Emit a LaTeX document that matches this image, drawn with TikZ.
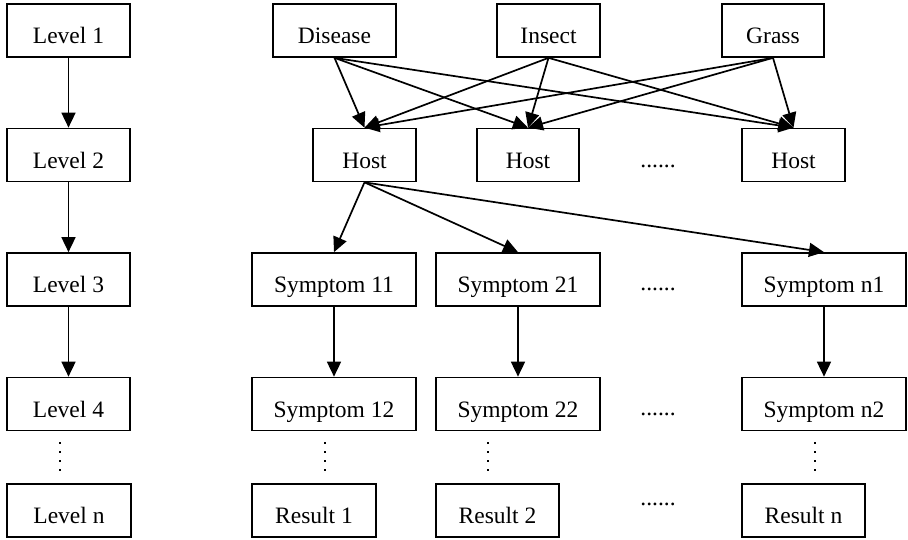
\documentclass[tikz,border=0pt]{standalone}
\usepackage{fontspec}
\setmainfont{Liberation Serif}
\usetikzlibrary{arrows.meta,calc}
\begin{document}
\begin{tikzpicture}[x=1pt,y=-1pt,
  box/.style={draw,line width=1.7pt,minimum height=53pt,inner sep=0pt,
    font=\fontsize{23.5}{27}\selectfont,text height=26pt,text depth=0pt},
  arr/.style={line width=1.7pt,-{Triangle[length=15pt,width=14pt]}},
  dotv/.style={line width=2.4pt,dash pattern=on 2.4pt off 6.6pt},
  ell/.style={font=\fontsize{23.5}{27}\selectfont,anchor=base,inner sep=0pt}]
\useasboundingbox (0,0) rectangle (908,539);
% left column
\node[box,minimum width=123pt] (l1) at (68.5,30.5) {Level 1};
\node[box,minimum width=123pt] (l2) at (68.5,155) {Level 2};
\node[box,minimum width=123pt] (l3) at (68.5,279.5) {Level 3};
\node[box,minimum width=123pt] (l4) at (68.5,404) {Level 4};
\node[box,minimum width=124pt] (ln) at (69,510.5) {Level n};
\draw[arr] (l1) -- (l2);
\draw[arr] (l2) -- (l3);
\draw[arr] (l3) -- (l4);
% top row
\node[box,minimum width=123pt] (dis) at (334.5,30.5) {Disease};
\node[box,minimum width=103pt] (ins) at (548.5,30.5) {Insect};
\node[box,minimum width=102pt] (gra) at (773,30.5) {Grass};
% hosts
\node[box,minimum width=103pt] (h1) at (364.5,155) {Host};
\node[box,minimum width=102pt] (h2) at (528,155) {Host};
\node[box,minimum width=103pt] (h3) at (793.5,155) {Host};
\node[ell] (e1) at (658,167) {......};
% symptoms
\node[box,minimum width=164pt] (s11) at (334,279.5) {Symptom 11};
\node[box,minimum width=164pt] (s21) at (518,279.5) {Symptom 21};
\node[box,minimum width=164pt] (sn1) at (824,279.5) {Symptom n1};
\node[ell] (e2) at (658,290) {......};
\node[box,minimum width=164pt] (s12) at (334,404) {Symptom 12};
\node[box,minimum width=164pt] (s22) at (518,404) {Symptom 22};
\node[box,minimum width=164pt] (sn2) at (824,404) {Symptom n2};
\node[ell] (e3) at (658,415) {......};
% results
\node[box,minimum width=124pt] (r1) at (314,510.5) {Result 1};
\node[box,minimum width=123pt] (r2) at (497.5,510.5) {Result 2};
\node[box,minimum width=123pt] (rn) at (803.5,510.5) {Result n};
\node[ell] (e4) at (658,505) {......};
% top edges
\foreach \s/\t in {dis/h1,dis/h2,dis/h3,ins/h1,ins/h2,ins/h3,gra/h1,gra/h2,gra/h3}
  \draw[arr] (\s.south) -- (\t.north);
% host to symptoms
\foreach \t in {s11,s21,sn1}
  \draw[arr] (h1.south) -- (\t.north);
\draw[arr] (s11) -- (s12);
\draw[arr] (s21) -- (s22);
\draw[arr] (sn1) -- (sn2);
% vertical dotted marks
\draw[dotv] (60,442) -- (60,471);
\draw[dotv] (325,442) -- (325,471);
\draw[dotv] (488,442) -- (488,471);
\draw[dotv] (815,442) -- (815,471);
\end{tikzpicture}
\end{document}
